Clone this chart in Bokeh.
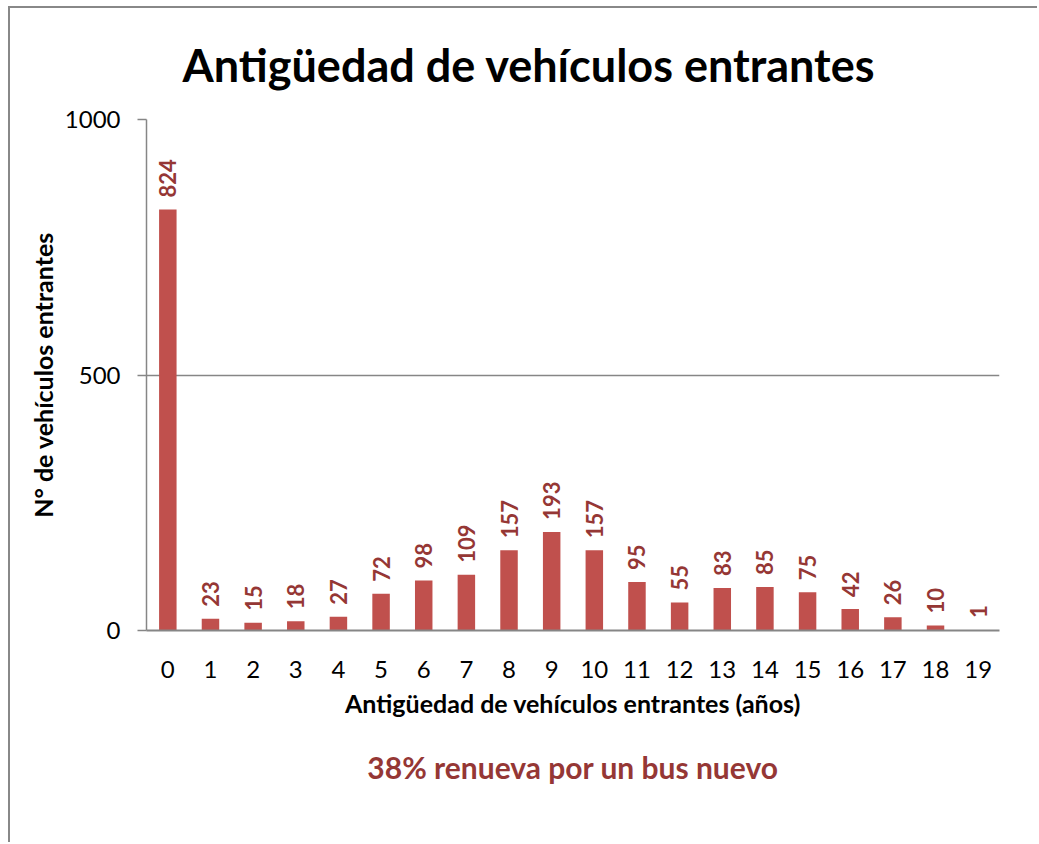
import math
from bokeh.plotting import figure
from bokeh.models import ColumnDataSource, LabelSet, Title, FactorRange, Range1d, FixedTicker
from bokeh.core.properties import value
from bokeh.embed import file_html
from bokeh.resources import INLINE

years = [str(i) for i in range(20)]
counts = [824, 23, 15, 18, 27, 72, 98, 109, 157, 193, 157, 95, 55, 83, 85, 75, 42, 26, 10, 1]
y_ticks = [0, 500, 1000]
title_text = "Antigüedad de vehículos entrantes"
x_label = "Antigüedad de vehículos entrantes (años)"
y_label = "N° de vehículos entrantes"
subtitle_text = "38% renueva por un bus nuevo"

FONT = "Lato"
BAR = "#C0504D"
LBL = "#953735"
GRID = "#868686"

src = ColumnDataSource(dict(x=years, y=counts, label=[str(c) for c in counts]))

p = figure(width=1029, height=836,
           x_range=FactorRange(*years, range_padding=0),
           y_range=Range1d(0, 1000),
           output_backend="svg", toolbar_location=None,
           min_border_left=136, min_border_right=40,
           min_border_top=111, min_border_bottom=214)
# outer chart-area border (only left and top edges are visible in the reference)
p.styles = {"margin-left": "8px", "margin-top": "6px",
            "border-left": "2px solid #888888", "border-top": "2px solid #888888"}

p.vbar(x="x", top="y", width=0.41, source=src, fill_color=BAR, line_color=None)

labels = LabelSet(x="x", y="y", text="label", source=src, angle=math.pi / 2,
                  text_align="left", text_baseline="middle", y_offset=12,
                  text_font=value(FONT), text_font_style="bold",
                  text_font_size="22px", text_color=LBL)
p.add_layout(labels)

# title
p.title.text = title_text
p.title.text_font = FONT
p.title.text_font_style = "bold"
p.title.text_font_size = "45px"
p.title.text_color = "black"
p.title.align = "left"
p.title.offset = 36
p.title.vertical_align = "top"
p.title.standoff = 51

# axes
p.outline_line_color = None
p.xgrid.grid_line_color = None
p.ygrid.grid_line_color = GRID
p.ygrid.grid_line_width = 1.5
p.ygrid.ticker = FixedTicker(ticks=y_ticks)

p.yaxis.ticker = FixedTicker(ticks=y_ticks)
p.yaxis.minor_tick_line_color = None
p.yaxis.major_tick_out = 9
p.yaxis.major_tick_in = 0
p.yaxis.major_tick_line_color = GRID
p.yaxis.major_tick_line_width = 1.5
p.yaxis.axis_line_color = GRID
p.yaxis.axis_line_width = 1.5
p.yaxis.major_label_standoff = 17
p.yaxis.major_label_text_font = FONT
p.yaxis.major_label_text_font_size = "24px"
p.yaxis.major_label_text_color = "black"
p.yaxis.axis_label = y_label
p.yaxis.axis_label_text_font = FONT
p.yaxis.axis_label_text_font_style = "bold"
p.yaxis.axis_label_text_font_size = "25px"
p.yaxis.axis_label_text_color = "black"
p.yaxis.axis_label_standoff = 4

p.xaxis.major_tick_line_color = None
p.xaxis.minor_tick_line_color = None
p.xaxis.axis_line_color = GRID
p.xaxis.axis_line_width = 2
p.xaxis.major_label_standoff = 24
p.xaxis.major_label_text_font = FONT
p.xaxis.major_label_text_font_size = "24px"
p.xaxis.major_label_text_color = "black"
p.xaxis.axis_label = x_label
p.xaxis.axis_label_text_font = FONT
p.xaxis.axis_label_text_font_style = "bold"
p.xaxis.axis_label_text_font_size = "25px"
p.xaxis.axis_label_text_color = "black"
p.xaxis.axis_label_standoff = 7

sub = Title(text=subtitle_text, align="center", text_font=FONT, text_font_style="bold",
            text_font_size="30px", text_color=LBL, standoff=52)
p.add_layout(sub, "below")

open("out.html", "w").write(file_html(p, INLINE))
